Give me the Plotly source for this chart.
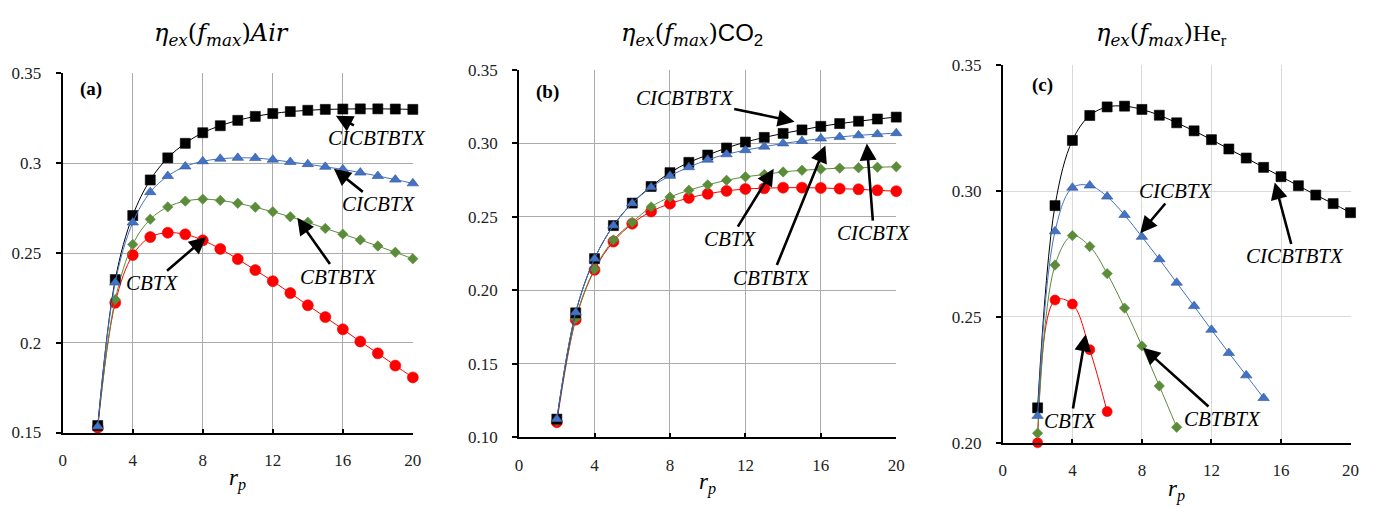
import plotly.graph_objects as go

# ---------------- data ----------------
rp_a = list(range(2, 21))
air_cicbtbtx = [0.1539, 0.2352, 0.2709, 0.2907, 0.3030, 0.3111, 0.3170, 0.3209, 0.3239, 0.3261,
                0.3277, 0.3288, 0.3295, 0.3300, 0.3302, 0.3303, 0.3303, 0.3302, 0.3300]
air_cicbtx = [0.1533, 0.2336, 0.2670, 0.2839, 0.2929, 0.2982, 0.3011, 0.3025, 0.3030, 0.3029,
              0.3020, 0.3007, 0.2995, 0.2980, 0.2966, 0.2948, 0.2929, 0.2909, 0.2888]
air_cbtbtx = [0.1536, 0.2241, 0.2548, 0.2688, 0.2757, 0.2789, 0.2800, 0.2793, 0.2777, 0.2755,
              0.2730, 0.2702, 0.2671, 0.2637, 0.2605, 0.2573, 0.2539, 0.2504, 0.2468]
air_cbtx = [0.1527, 0.2223, 0.2489, 0.2589, 0.2613, 0.2604, 0.2571, 0.2523, 0.2466, 0.2405,
            0.2343, 0.2277, 0.2209, 0.2143, 0.2075, 0.2007, 0.1941, 0.1873, 0.1807]

rp_b = list(range(2, 21))
co2_cicbtbtx = [0.1124, 0.1847, 0.2216, 0.2441, 0.2594, 0.2707, 0.2801, 0.2871, 0.2921, 0.2969,
                0.3009, 0.3041, 0.3068, 0.3092, 0.3116, 0.3135, 0.3151, 0.3166, 0.3179]
co2_cicbtx = [0.1124, 0.1849, 0.2216, 0.2441, 0.2592, 0.2701, 0.2780, 0.2838, 0.2889, 0.2926,
              0.2954, 0.2978, 0.3000, 0.3017, 0.3033, 0.3044, 0.3055, 0.3063, 0.3070]
co2_cbtbtx = [0.1113, 0.1808, 0.2146, 0.2343, 0.2463, 0.2568, 0.2635, 0.2681, 0.2718, 0.2749,
              0.2773, 0.2788, 0.2806, 0.2817, 0.2825, 0.2832, 0.2834, 0.2838, 0.2841]
co2_cbtx = [0.1103, 0.1801, 0.2140, 0.2332, 0.2454, 0.2537, 0.2590, 0.2629, 0.2657, 0.2677,
            0.2690, 0.2695, 0.2699, 0.2699, 0.2697, 0.2692, 0.2688, 0.2681, 0.2675]

rp_c_cicbtbtx = list(range(2, 21))
he_cicbtbtx = [0.2139, 0.2942, 0.3201, 0.3300, 0.3334, 0.3337, 0.3324, 0.3301, 0.3271, 0.3239,
               0.3204, 0.3167, 0.3131, 0.3094, 0.3057, 0.3021, 0.2984, 0.2950, 0.2914]
rp_c_cicbtx = list(range(2, 16))
he_cicbtx = [0.2107, 0.2840, 0.3013, 0.3022, 0.2978, 0.2905, 0.2818, 0.2729, 0.2636, 0.2543,
             0.2449, 0.2357, 0.2268, 0.2178]
rp_c_cbtbtx = list(range(2, 11))
he_cbtbtx = [0.2038, 0.2706, 0.2823, 0.2780, 0.2672, 0.2535, 0.2385, 0.2226, 0.2062]
rp_c_cbtx = list(range(2, 7))
he_cbtx = [0.2000, 0.2567, 0.2551, 0.2370, 0.2124]

x_ticks = [0, 4, 8, 12, 16, 20]
y_ticks_a = [0.15, 0.2, 0.25, 0.3, 0.35]
y_ticktext_a = ["0.15", "0.2", "0.25", "0.3", "0.35"]
y_ticks_b = [0.10, 0.15, 0.20, 0.25, 0.30, 0.35]
y_ticktext_b = ["0.10", "0.15", "0.20", "0.25", "0.30", "0.35"]
y_ticks_c = [0.20, 0.25, 0.30, 0.35]
y_ticktext_c = ["0.20", "0.25", "0.30", "0.35"]

titles = ["<i>η</i><sub><i>ex</i></sub>(<i>f</i><sub><i>max</i></sub>)<i>Air</i>",
          "<i>η</i><sub><i>ex</i></sub>(<i>f</i><sub><i>max</i></sub>)<span style='font-family:Liberation Sans'>CO<sub>2</sub></span>",
          "<i>η</i><sub><i>ex</i></sub>(<i>f</i><sub><i>max</i></sub>)<span style='font-family:Liberation Serif'>He<sub>r</sub></span>"]

# ---------------- styles ----------------
BLUE = "#4472C4"
GREEN = "#5B8C3A"
RED = "#FF0000"
SERIF = "Liberation Serif"
TITLE_FONT = "DejaVu Serif"

fig = go.Figure()

def add_series(x, y, xa, ya, color, symbol, size, line_color, edge=None):
    fig.add_trace(go.Scatter(
        x=x, y=y, xaxis=xa, yaxis=ya, mode="lines+markers",
        line=dict(color=line_color, width=1, shape="spline", smoothing=1),
        marker=dict(symbol=symbol, size=size, color=color,
                    line=dict(width=0.6, color=edge or color)),
        showlegend=False, cliponaxis=False))

# panel a
add_series(rp_a, air_cbtx, "x", "y", RED, "circle", 11, RED)
add_series(rp_a, air_cbtbtx, "x", "y", GREEN, "diamond", 8, GREEN)
add_series(rp_a, air_cicbtbtx, "x", "y", "black", "square", 10, "black")
add_series(rp_a, air_cicbtx, "x", "y", BLUE, "triangle-up", 10, BLUE, "#2F5597")
# panel b
add_series(rp_b, co2_cbtx, "x2", "y2", RED, "circle", 11, RED)
add_series(rp_b, co2_cbtbtx, "x2", "y2", GREEN, "diamond", 8, GREEN)
add_series(rp_b, co2_cicbtbtx, "x2", "y2", "black", "square", 10, "black")
add_series(rp_b, co2_cicbtx, "x2", "y2", BLUE, "triangle-up", 10, BLUE, "#2F5597")
# panel c
add_series(rp_c_cbtx, he_cbtx, "x3", "y3", RED, "circle", 10, RED)
add_series(rp_c_cbtbtx, he_cbtbtx, "x3", "y3", GREEN, "diamond", 8, GREEN)
add_series(rp_c_cicbtbtx, he_cicbtbtx, "x3", "y3", "black", "square", 10, "black")
add_series(rp_c_cicbtx, he_cicbtx, "x3", "y3", BLUE, "triangle-up", 10, BLUE, "#2F5597")

W, H = 1386, 508

def xdom(l, r):
    return [l / W, r / W]

def ydom(top, bottom):
    return [(H - bottom) / H, (H - top) / H]

def xaxis(dom, grid, anchor):
    return dict(domain=dom, range=[0, 20], tickvals=x_ticks, anchor=anchor,
                showgrid=True, gridcolor=grid, gridwidth=1,
                showline=True, linecolor="black", linewidth=2,
                ticks="inside", ticklen=4, tickcolor="black", tickwidth=1.5,
                ticklabelstandoff=11,
                tickfont=dict(family=SERIF, size=17, color="#222"),
                zeroline=False, fixedrange=True)

def yaxis(dom, rng, tv, tt, grid, anchor):
    return dict(domain=dom, range=rng, tickvals=tv, ticktext=tt, anchor=anchor,
                showgrid=True, gridcolor=grid, gridwidth=1,
                showline=True, linecolor="black", linewidth=2,
                ticks="outside", ticklen=5, tickcolor="black", tickwidth=1.5,
                ticklabelstandoff=11,
                tickfont=dict(family=SERIF, size=17, color="#222"),
                zeroline=False, fixedrange=True)

GRID_AB = "#ABABAB"
GRID_C = "#D9D9D9"

fig.update_layout(
    width=W, height=H,
    margin=dict(l=0, r=0, t=0, b=0),
    paper_bgcolor="white", plot_bgcolor="white",
    font=dict(family=SERIF, size=17),
    xaxis=xaxis(xdom(59.3, 412.7), GRID_AB, "y"),
    yaxis=yaxis(ydom(67, 440), [0.15, 0.35], y_ticks_a, y_ticktext_a, GRID_AB, "x"),
    xaxis2=xaxis(xdom(520, 900.7), GRID_AB, "y2"),
    yaxis2=yaxis(ydom(63.3, 445), [0.10, 0.35], y_ticks_b, y_ticktext_b, GRID_AB, "x2"),
    xaxis3=xaxis(xdom(1008.3, 1359.3), GRID_C, "y3"),
    yaxis3=yaxis(ydom(58.3, 450.7), [0.20, 0.35], y_ticks_c, y_ticktext_c, GRID_C, "x3"),
)

ann = []
# titles
for cx, t in zip([220, 695, 1168], titles):
    ann.append(dict(text=t, x=cx / W, y=1 - 26 / H, xref="paper", yref="paper",
                    xanchor="center", yanchor="middle", showarrow=False,
                    font=dict(family=TITLE_FONT, size=24, color="black")))
# r_p axis labels
for cx, cy in [(236, 489), (710, 493), (1184, 500)]:
    ann.append(dict(text="<i>r</i><sub><i>p</i></sub>", x=cx / W, y=1 - cy / H,
                    xref="paper", yref="paper", xanchor="center", yanchor="middle",
                    showarrow=False, font=dict(family=SERIF, size=23, color="black")))

# panel letters
for lab, x, y, xr, yr in [("(a)", 1.62, 0.3414, "x", "y"), ("(b)", 1.52, 0.3352, "x2", "y2"),
                          ("(c)", 2.26, 0.3421, "x3", "y3")]:
    ann.append(dict(text="<b>" + lab + "</b>", x=x, y=y, xref=xr, yref=yr, showarrow=False,
                    font=dict(family=SERIF, size=19, color="black")))

# series labels with arrows: (text, label x, label y, arrow head x, head y, axis)
labels = [
    ("CICBTBTX", 17.98, 0.3141, 15.6, 0.3264, "x", "y"),
    ("CICBTX", 18.04, 0.2771, 15.49, 0.2969, "x", "y"),
    ("CBTBTX", 15.77, 0.2369, 13.4, 0.2696, "x", "y"),
    ("CBTX", 5.13, 0.2331, 8.19, 0.2589, "x", "y"),
    ("CICBTBTX", 8.78, 0.3306, 14.61, 0.3148, "x2", "y2"),
    ("CBTX", 11.19, 0.2349, 13.5, 0.2828, "x2", "y2"),
    ("CBTBTX", 13.4, 0.2087, 16.24, 0.2985, "x2", "y2"),
    ("CICBTX", 18.81, 0.2389, 18.44, 0.2999, "x2", "y2"),
    ("CICBTX", 9.95, 0.3000, 7.9, 0.2832, "x3", "y3"),
    ("CICBTBTX", 16.78, 0.2740, 15.64, 0.3034, "x3", "y3"),
    ("CBTX", 3.91, 0.2087, 4.77, 0.2431, "x3", "y3"),
    ("CBTBTX", 12.63, 0.2095, 8.07, 0.2378, "x3", "y3"),
]
for t, lx, ly, hx, hy, xr, yr in labels:
    ann.append(dict(text="<i>" + t + "</i>", x=hx, y=hy, xref=xr, yref=yr,
                    ax=lx, ay=ly, axref=xr, ayref=yr,
                    showarrow=True, arrowhead=2, arrowsize=1.3, arrowwidth=2.6,
                    arrowcolor="black", standoff=0, borderpad=0,
                    font=dict(family=SERIF, size=21, color="black")))

fig.update_layout(annotations=ann)
fig.write_html("out.html")
